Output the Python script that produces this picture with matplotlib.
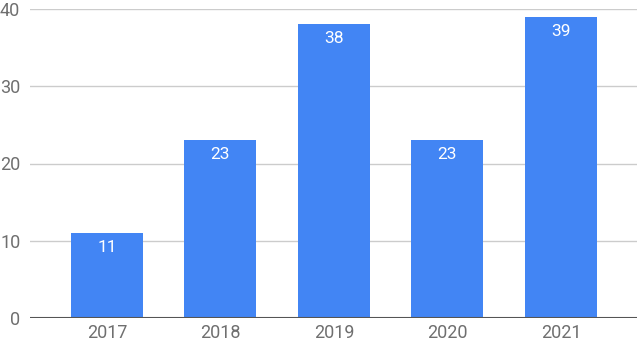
import matplotlib.pyplot as plt

years = ["2017", "2018", "2019", "2020", "2021"]
counts = [11, 23, 38, 23, 39]
yticks = [0, 10, 20, 30, 40]

plt.rcParams['font.family'] = ['Roboto', 'DejaVu Sans']

fig = plt.figure(figsize=(6.4, 3.43), dpi=100)
ax = fig.add_axes([30 / 640, 25 / 343, 607 / 640, 309 / 343])

x = list(range(len(years)))
bars = ax.bar(x, counts, width=0.635, color="#4285F4", zorder=3)
for b, v in zip(bars, counts):
    ax.text(b.get_x() + b.get_width() / 2, v - 0.9, str(v), ha="center", va="top",
            color="white", fontsize=12.5, zorder=4)

ax.set_xlim(-0.678, 4.67)
ax.set_ylim(0, 40)
ax.set_yticks(yticks)
ax.set_xticks(x)
ax.set_xticklabels(years)
ax.grid(axis="y", color="#cccccc", linewidth=1, zorder=0)
ax.axhline(0, color="#555555", linewidth=1.5, zorder=5)
for s in ax.spines.values():
    s.set_visible(False)
ax.tick_params(length=0, labelsize=13, colors="#6f6f6f")
ax.tick_params(axis="y", pad=7)
ax.tick_params(axis="x", pad=4)

fig.savefig("out.png", dpi=100)
